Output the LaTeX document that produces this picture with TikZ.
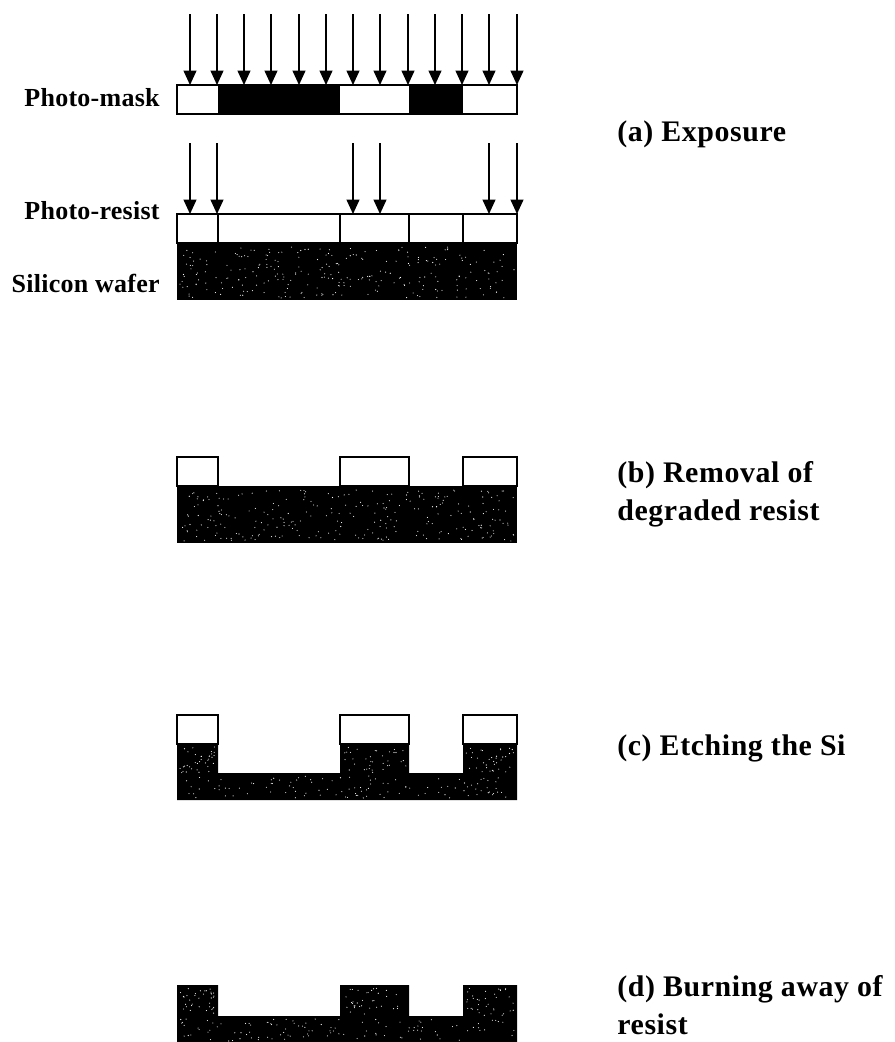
\documentclass[tikz,border=0pt]{standalone}
\usepackage{fontspec}
\setmainfont{Liberation Serif}
\newfontfamily\sidefont[LetterSpace=1]{Liberation Serif}
\newfontfamily\stepfont[LetterSpace=2]{Liberation Serif}
\usetikzlibrary{arrows.meta}
\tikzset{
  beam/.style={thick, -{Triangle[length=14.5*0.569pt, width=13*0.569pt]}},
  layer/.style={thick, fill=white},
  sidelabel/.style={font=\fontsize{14.8}{17}\sidefont\bfseries, anchor=base east, inner sep=0pt},
  steplabel/.style={font=\fontsize{17}{21.6}\stepfont\bfseries, anchor=base west, align=left, inner sep=0pt},
}
\begin{document}
\begin{tikzpicture}[x=0.02cm, y=-0.02cm]
\useasboundingbox (0,0) rectangle (894,1042);
\pgfmathsetseed{41}
\def\speckle#1#2#3#4{%
  \foreach \k in {1,...,#4}{
    \pgfmathsetmacro{\sx}{#1+3+rnd*334}
    \pgfmathsetmacro{\sy}{#2+rnd*(#3-#2)}
    \fill[white] (\sx,\sy) circle (0.55);
  }
}

% (a) exposure
\foreach \ax in {190,217,244,271,299,326,353,380,408,435,462,489,517}
  \draw[beam] (\ax,14) -- (\ax,85);
\draw[layer] (177,85) rectangle (517,114);
\fill (218,85) rectangle (340,114);
\fill (409,85) rectangle (463,114);
\foreach \ax in {190,217,353,380,489,517}
  \draw[beam] (\ax,143) -- (\ax,214);
\draw[layer] (177,214) rectangle (517,243);
\foreach \bx in {218,340,409,463}
  \draw[thick] (\bx,214) -- (\bx,243);
\fill (177,243) rectangle (517,300);
\speckle{177}{247}{298}{260}

\node[sidelabel] (mask) at (160,106) {Photo-mask};
\node[sidelabel] (resist) at (160,219) {Photo-resist};
\node[sidelabel] (wafer) at (160,292) {Silicon wafer};
\node[steplabel] (expo) at (617,141) {(a) Exposure};

% (b) removal
\foreach \bl/\br in {177/218,340/409,463/517}
  \draw[layer] (\bl,457) rectangle (\br,486);
\fill (177,486) rectangle (517,543);
\speckle{177}{490}{541}{260}
\node[steplabel] (removal) at (617,520) {(b) Removal of\\degraded resist};

% (c) etching
\foreach \bl/\br in {177/218,340/409,463/517}
  \draw[layer] (\bl,715) rectangle (\br,744);
\fill (177,744) -- (218,744) -- (218,773) -- (340,773) -- (340,744) -- (409,744)
  -- (409,773) -- (463,773) -- (463,744) -- (517,744) -- (517,800) -- (177,800) -- cycle;
\speckle{177}{776}{798}{110}
\foreach \bl/\bw in {177/35,340/63,463/48}{
  \pgfmathsetseed{\bl}
  \foreach \k in {1,...,35}{
    \pgfmathsetmacro{\sx}{\bl+3+rnd*\bw}
    \pgfmathsetmacro{\sy}{747+rnd*26}
    \fill[white] (\sx,\sy) circle (0.55);
  }
}
\node[steplabel] (etch) at (617,755) {(c) Etching the Si};

% (d) burning
\fill (177,985) -- (218,985) -- (218,1016) -- (340,1016) -- (340,985) -- (409,985)
  -- (409,1016) -- (463,1016) -- (463,985) -- (517,985) -- (517,1042) -- (177,1042) -- cycle;
\speckle{177}{1019}{1041}{110}
\foreach \bl/\bw in {177/35,340/63,463/48}{
  \pgfmathsetseed{\bl+5}
  \foreach \k in {1,...,35}{
    \pgfmathsetmacro{\sx}{\bl+3+rnd*\bw}
    \pgfmathsetmacro{\sy}{988+rnd*28}
    \fill[white] (\sx,\sy) circle (0.55);
  }
}
\node[steplabel] (burn) at (617,1034) {(d) Burning away of\\resist};
\end{tikzpicture}
\end{document}
